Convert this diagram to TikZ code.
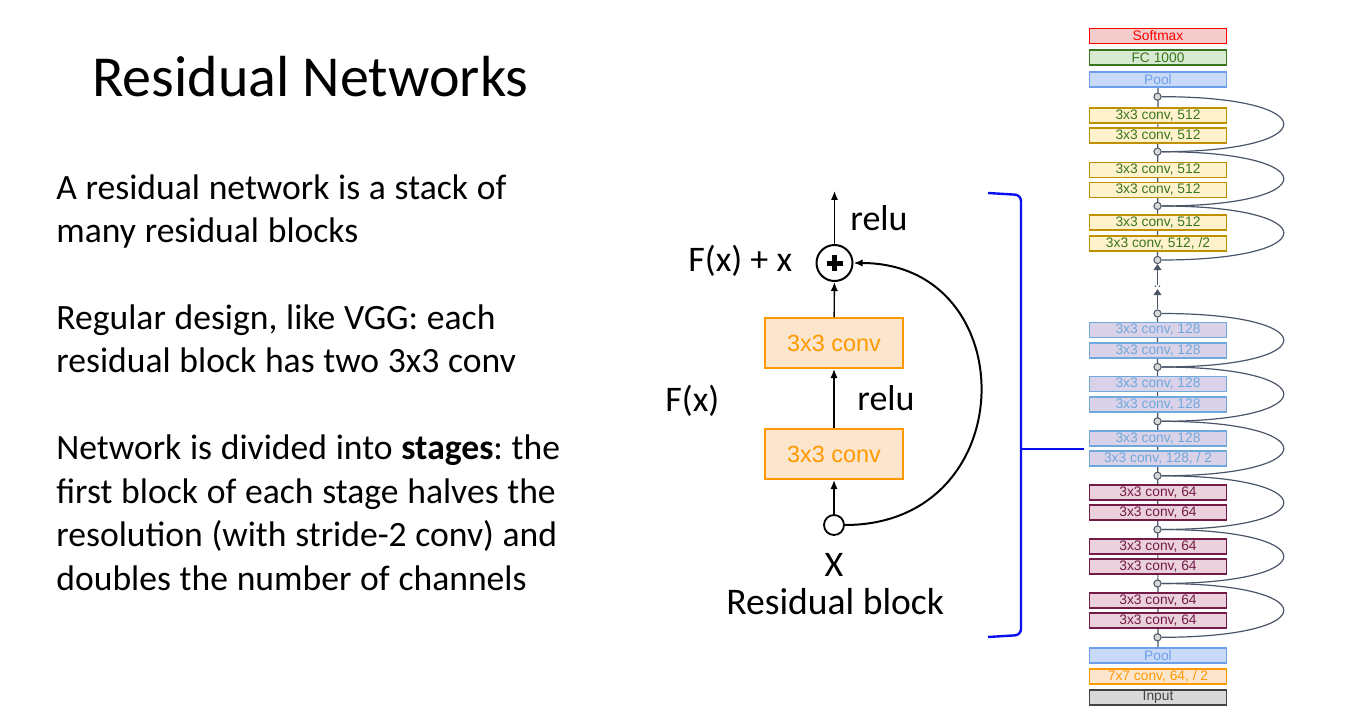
\documentclass[tikz,border=0pt]{standalone}
\usepackage{fontspec}
\setmainfont{Carlito}
\newfontfamily\bodyfont{Carlito}
\newfontfamily\helvfont{Liberation Sans}
\usepackage{tikz}
\usetikzlibrary{arrows.meta,positioning,backgrounds}
\frenchspacing
\definecolor{convorange}{HTML}{FF9900}
\definecolor{convpeach}{HTML}{FCE5CD}
\definecolor{bracketblue}{HTML}{0A10F0}
\definecolor{linkslate}{HTML}{4A5568}
\definecolor{softred}{HTML}{FF0000}
\definecolor{softpink}{HTML}{F4CCCC}
\definecolor{fcgreen}{HTML}{38761D}
\definecolor{fcmint}{HTML}{D9EAD3}
\definecolor{poolblue}{HTML}{6D9EEB}
\definecolor{poolsky}{HTML}{C9DAF8}
\definecolor{gold}{HTML}{BF9000}
\definecolor{cream}{HTML}{FFF2CC}
\definecolor{steel}{HTML}{6FA8DC}
\definecolor{lavender}{HTML}{D9D2E9}
\definecolor{plum}{HTML}{741B47}
\definecolor{rosefill}{HTML}{EAD1DC}
\definecolor{inkgray}{HTML}{434343}
\definecolor{lightgray}{HTML}{D9D9D9}
\tikzset{
  lbl/.style={inner sep=0,anchor=base west},
  para/.style={inner sep=0,anchor=base west,text width=300pt,align=left,
    font=\bodyfont\fontsize{17.8}{21.7}\selectfont,
    execute at begin node={\spaceskip=0.245em\relax}},
  blockconv/.style={draw=convorange,fill=convpeach,text=convorange,line width=1pt,
    minimum width=69pt,minimum height=25pt,inner sep=0,font=\helvfont\fontsize{11.7}{13}\selectfont},
  addop/.style={circle,draw,line width=1pt,minimum size=18pt,inner sep=0},
  inpt/.style={circle,draw,line width=0.9pt,minimum size=10pt,inner sep=0},
  flow/.style={-{Latex[length=4.5pt,width=3.6pt]},line width=0.7pt},
  skip/.style={-{Latex[length=4.5pt,width=3.6pt]},line width=1pt},
  bracket/.style={draw=bracketblue,line width=1.2pt},
  layer/.style={draw,minimum width=68.5pt,minimum height=7.5pt,inner sep=0,line width=0.9pt,
    font=\helvfont\fontsize{6.9}{7}\selectfont},
  smaxbox/.style={layer,draw=softred,fill=softpink,text=softred},
  fcbox/.style={layer,draw=fcgreen,fill=fcmint,text=fcgreen},
  poolbox/.style={layer,draw=poolblue,fill=poolsky,text=poolblue},
  convbig/.style={layer,draw=gold,fill=cream,text=fcgreen},
  convmid/.style={layer,draw=steel,fill=lavender,text=steel},
  convsmall/.style={layer,draw=plum,fill=rosefill,text=plum},
  stembox/.style={layer,draw=convorange,fill=convpeach,text=convorange},
  inbox/.style={layer,draw=inkgray,fill=lightgray,text=inkgray},
  junct/.style={circle,draw=linkslate,fill=black!15,line width=0.5pt,minimum size=3.6pt,inner sep=0},
  stackline/.style={draw=linkslate,line width=0.6pt},
  skiparc/.style={draw=linkslate,line width=0.6pt},
  stackarrow/.style={draw=linkslate,line width=0.6pt,-{Triangle[length=3pt,width=4pt]}}
}

\begin{document}
\begin{tikzpicture}[x=0.5pt,y=-0.5pt,font=\fontsize{18}{21.7}\selectfont]
\path[use as bounding box] (0,0) rectangle (1356,722);

% title and text
\node[lbl,font=\fontsize{29}{34}\selectfont] (title) at (92,97) {Residual Networks};
\node[para] (p1) at (56,199.3) {A residual network is a stack of\\many residual blocks};
\node[para] (p2) at (56,329.5) {Regular design, like VGG: each\\residual block has two 3x3 conv};
\node[para] (p3) at (56,459.8) {Network is divided into \textbf{stages}: the\\first block of each stage halves the\\resolution (with stride-2 conv) and\\doubles the number of channels};

% residual block
\node[blockconv] (conv2) at (834,454) {3x3 conv};
\node[blockconv] (conv1) at (834,343) {3x3 conv};
\node[addop] (plus) at (834.5,263) {};
\draw[line width=2.5pt] (plus.center) +(-8,0) -- +(8,0) (plus.center) +(0,-8) -- +(0,8);
\node[inpt] (xin) at (834,525) {};
\coordinate (out) at (834.5,191);
\draw[flow] (xin) -- (conv2);
\draw[flow] (conv2) -- (conv1);
\draw[flow] (conv1) -- (plus);
\draw[flow] (plus) -- (out);
\draw[skip] (xin) .. controls +(190,0) and +(190,0) .. (plus);
\node[lbl] (relutop) at (850,230.7) {relu};
\node[lbl] (fxx) at (688,271.7) {F(x) + x};
\node[lbl] (fx) at (665,411.7) {F(x)};
\node[lbl] (relumid) at (857,410) {relu};
\node[inner sep=0,anchor=base] (xlab) at (834,576.7) {X};
\node[lbl,font=\fontsize{18.8}{22}\selectfont] (caption) at (726,614) {Residual block};

% bracket
\coordinate (brtop) at (988,193);
\coordinate (brtopc) at (1021,195);
\coordinate (brbotc) at (1021,635);
\coordinate (brbot) at (988,637);
\coordinate (brmid) at (1021,449);
\coordinate (tickend) at (1084,449);
\draw[bracket,rounded corners=3pt] (brtop) -- (brtopc) -- (brbotc) -- (brbot);
\draw[bracket] (brmid) -- (tickend);

% full network
\node[smaxbox] (smax) at (1158,36) {Softmax};
\node[fcbox] (fc) at (1158,57.5) {FC 1000};
\node[poolbox] (pooltop) at (1158,79.3) {Pool};
\node[junct] (j1) at (1157.5,96.7) {};
\node[convbig] (b512a) at (1158,115.8) {3x3 conv, 512};
\node[convbig] (b512b) at (1158,135.2) {3x3 conv, 512};
\node[junct] (j2) at (1157.5,151.7) {};
\node[convbig] (b512c) at (1158,170) {3x3 conv, 512};
\node[convbig] (b512d) at (1158,190) {3x3 conv, 512};
\node[junct] (j3) at (1157.5,206) {};
\node[convbig] (b512e) at (1158,222.7) {3x3 conv, 512};
\node[convbig] (b512f) at (1158,243.3) {3x3 conv, 512, /2};
\node[junct] (j4) at (1157.5,260) {};
\node[inner sep=0.5pt,text=linkslate,font=\helvfont\fontsize{7}{7}\selectfont] (dots) at (1157.5,287) {..};
\node[junct] (j5) at (1157.5,313.5) {};
\node[convmid] (b128a) at (1158,330) {3x3 conv, 128};
\node[convmid] (b128b) at (1158,350.5) {3x3 conv, 128};
\node[junct] (j6) at (1157.5,367) {};
\node[convmid] (b128c) at (1158,384) {3x3 conv, 128};
\node[convmid] (b128d) at (1158,404.5) {3x3 conv, 128};
\node[junct] (j7) at (1157.5,421.3) {};
\node[convmid] (b128e) at (1158,438.3) {3x3 conv, 128};
\node[convmid] (b128f) at (1158,458.3) {3x3 conv, 128, / 2};
\node[junct] (j8) at (1157.5,475.8) {};
\node[convsmall] (b64a) at (1158,492.5) {3x3 conv, 64};
\node[convsmall] (b64b) at (1158,512.5) {3x3 conv, 64};
\node[junct] (j9) at (1157.5,529.5) {};
\node[convsmall] (b64c) at (1158,546.5) {3x3 conv, 64};
\node[convsmall] (b64d) at (1158,566.5) {3x3 conv, 64};
\node[junct] (j10) at (1157.5,583.5) {};
\node[convsmall] (b64e) at (1158,600.3) {3x3 conv, 64};
\node[convsmall] (b64f) at (1158,620.3) {3x3 conv, 64};
\node[junct] (j11) at (1157.5,637.3) {};
\node[poolbox] (poolbot) at (1158,655.5) {Pool};
\node[stembox] (stem) at (1158,676.2) {7x7 conv, 64, / 2};
\node[inbox] (inp) at (1158,697.5) {Input};

\begin{scope}[on background layer]
\draw[stackline] (pooltop) -- (j4);
\draw[stackline] (j5) -- (poolbot);
\end{scope}
\draw[stackarrow] (j5) -- (dots);
\draw[stackarrow] (dots) -- (j4);

% shortcuts
\draw[skiparc] (j1) .. controls +(167,0) and +(167,0) .. (j2);
\draw[skiparc] (j2) .. controls +(167,0) and +(167,0) .. (j3);
\draw[skiparc] (j3) .. controls +(167,0) and +(167,0) .. (j4);
\draw[skiparc] (j5) .. controls +(167,0) and +(167,0) .. (j6);
\draw[skiparc] (j6) .. controls +(167,0) and +(167,0) .. (j7);
\draw[skiparc] (j7) .. controls +(167,0) and +(167,0) .. (j8);
\draw[skiparc] (j8) .. controls +(167,0) and +(167,0) .. (j9);
\draw[skiparc] (j9) .. controls +(167,0) and +(167,0) .. (j10);
\draw[skiparc] (j10) .. controls +(167,0) and +(167,0) .. (j11);
\end{tikzpicture}
\end{document}
